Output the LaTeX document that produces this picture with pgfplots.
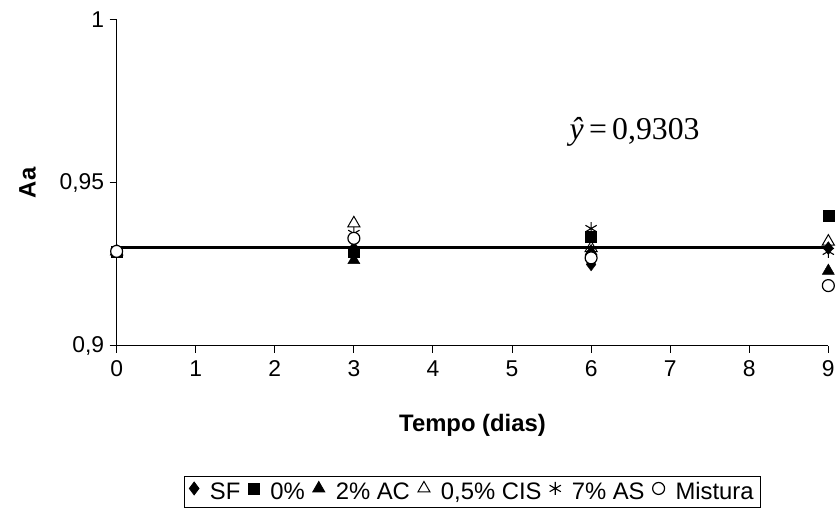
\documentclass[border=0pt]{standalone}
\usepackage{pgfplots}
\pgfplotsset{compat=1.18}
\usepackage{fontspec}
\setmainfont{Liberation Sans}
\newfontfamily\timesfont{Liberation Serif}
\begin{document}
\begin{tikzpicture}
\begin{axis}[
  at={(0,0)}, anchor=south west,
  scale only axis, width=714bp, height=327bp,
  xmin=0, xmax=9, ymin=0.9, ymax=1,
  axis x line*=bottom, axis y line*=left,
  axis line style={line width=0.9bp},
  xtick={0,1,...,9},
  ytick={0.9,0.95,1},
  yticklabels={{0,9},{0,95},{1}},
  tick align=outside,
  major tick length=7bp,
  tick style={black, line width=0.9bp},
  /pgf/number format/assume math mode=true,
  ticklabel style={font=\fontsize{23}{25}\selectfont},
  xticklabel style={yshift=-4bp},
  yticklabel style={xshift=-2bp},
  xlabel={\bfseries Tempo (dias)},
  ylabel={\bfseries Aa},
  label style={font=\fontsize{24}{26}\selectfont},
  xlabel style={at={(axis description cs:0.5,-0.245)}, anchor=center},
  ylabel style={at={(axis description cs:-0.125,0.5)}, anchor=center, rotate=0},
  clip=false,
  legend columns=-1,
  legend style={at={(axis description cs:0.5,-0.40)}, anchor=north,
    draw=black, line width=0.8bp, font=\fontsize{24}{26}\selectfont,
    inner xsep=5bp, inner ysep=4bp,
    /tikz/every even column/.append style={column sep=6bp},
    /tikz/every odd column/.append style={column sep=9bp}},
  legend image code/.code={\draw plot coordinates {(0.3em,0.36em)};},
]
\addplot[black, line width=2.8bp, forget plot] coordinates {(0,0.9303) (9,0.9303)};
\addplot[only marks, mark=diamond*, mark size=6.5bp, black, fill=black] coordinates {(0,0.929) (3,0.930) (6,0.925) (9,0.930)};
\addlegendentry{SF}
\addplot[only marks, mark=square*, mark size=5.5bp, black, fill=black] coordinates {(0,0.929) (3,0.929) (6,0.9335) (9,0.940)};
\addlegendentry{0\%}
\addplot[only marks, mark=triangle*, mark size=7bp, black, fill=black] coordinates {(0,0.929) (3,0.9263) (6,0.929) (9,0.923)};
\addlegendentry{2\% AC}
\addplot[only marks, mark=triangle, mark size=7bp, black, fill=white, mark options={line width=1bp}] coordinates {(0,0.929) (3,0.9376) (6,0.930) (9,0.932)};
\addlegendentry{0,5\% CIS}
\addplot[only marks, mark=asterisk, mark size=6.5bp, black, mark options={line width=1.1bp}] coordinates {(0,0.929) (3,0.9345) (6,0.936) (9,0.929)};
\addlegendentry{7\% AS}
\addplot[only marks, mark=*, mark size=6bp, black, fill=white, mark options={line width=1.2bp}] coordinates {(0,0.929) (3,0.933) (6,0.927) (9,0.9185)};
\addlegendentry{Mistura}
\node[font=\timesfont\fontsize{32}{34}\selectfont, anchor=center] at (axis cs:6.55,0.9658) {\textit{\^{y}}\,=\,0,9303};
\end{axis}
\path[use as bounding box] (-117bp,-164bp) rectangle (721bp,347bp);
\end{tikzpicture}
\end{document}
